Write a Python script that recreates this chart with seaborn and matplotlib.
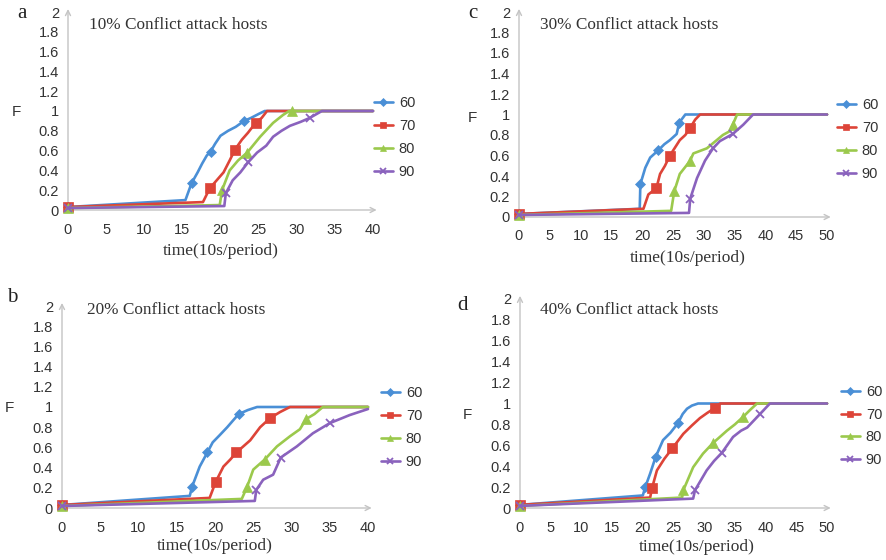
import matplotlib
matplotlib.use("Agg")
import matplotlib.pyplot as plt
import seaborn as sns

# ---------------- data ----------------
series_labels = ["60", "70", "80", "90"]
panel_titles = ["10% Conflict attack hosts", "20% Conflict attack hosts",
                "30% Conflict attack hosts", "40% Conflict attack hosts"]
panel_letters = ["a", "b", "c", "d"]
xticks_40 = [0, 5, 10, 15, 20, 25, 30, 35, 40]
xticks_50 = [0, 5, 10, 15, 20, 25, 30, 35, 40, 45, 50]
yticks = [0, 0.2, 0.4, 0.6, 0.8, 1.0, 1.2, 1.4, 1.6, 1.8, 2.0]
ytick_labels = ["0", "0.2", "0.4", "0.6", "0.8", "1", "1.2", "1.4", "1.6", "1.8", "2"]

# panel a: 10%
a60_x = [0, 15.4, 16.2, 17.0, 17.6, 18.2, 18.7, 19.3, 20.0, 21.0, 22.0, 23.1, 24.0, 25.0, 25.8, 40]
a60_y = [0.03, 0.10, 0.27, 0.38, 0.47, 0.55, 0.59, 0.67, 0.75, 0.80, 0.84, 0.90, 0.93, 0.97, 1.0, 1.0]
a60_mk = [0, 2, 6, 11]
a70_x = [0, 17.7, 18.6, 19.5, 20.4, 21.2, 21.9, 22.8, 23.6, 24.6, 25.4, 26.1, 40]
a70_y = [0.03, 0.08, 0.22, 0.30, 0.38, 0.50, 0.61, 0.71, 0.78, 0.88, 0.93, 1.0, 1.0]
a70_mk = [0, 2, 6, 9]
a80_x = [0, 19.9, 20.2, 21.2, 22.3, 23.5, 25.2, 26.9, 28.2, 29.0, 29.4, 40]
a80_y = [0.02, 0.05, 0.20, 0.40, 0.50, 0.58, 0.74, 0.88, 0.96, 1.0, 1.0, 1.0]
a80_mk = [0, 2, 5, 10]
a90_x = [0, 20.5, 20.7, 21.6, 22.6, 23.6, 24.8, 26.0, 26.9, 28.0, 29.1, 30.5, 31.7, 33.3, 40]
a90_y = [0.02, 0.04, 0.17, 0.30, 0.38, 0.48, 0.58, 0.65, 0.74, 0.80, 0.85, 0.89, 0.93, 1.0, 1.0]
a90_mk = [0, 2, 5, 12]

# panel b: 20%
b60_x = [0, 16.7, 17.0, 18.0, 19.0, 19.7, 20.6, 21.6, 22.4, 23.1, 24.3, 25.5, 40]
b60_y = [0.03, 0.12, 0.21, 0.41, 0.55, 0.65, 0.72, 0.80, 0.87, 0.93, 0.97, 1.0, 1.0]
b60_mk = [0, 2, 4, 9]
b70_x = [0, 19.3, 20.1, 21.1, 22.0, 22.8, 23.7, 24.6, 25.9, 27.2, 28.5, 29.8, 40]
b70_y = [0.03, 0.10, 0.26, 0.41, 0.48, 0.55, 0.61, 0.67, 0.80, 0.89, 0.95, 1.0, 1.0]
b70_mk = [0, 2, 5, 9]
b80_x = [0, 23.5, 24.2, 25.0, 26.5, 28.1, 29.8, 31.1, 31.9, 33.0, 34.1, 40]
b80_y = [0.02, 0.09, 0.21, 0.38, 0.48, 0.61, 0.71, 0.78, 0.88, 0.93, 1.0, 1.0]
b80_mk = [0, 2, 4, 8]
b90_x = [0, 25.2, 25.4, 26.3, 27.6, 28.6, 30.7, 32.8, 35.0, 37.6, 40]
b90_y = [0.02, 0.07, 0.18, 0.28, 0.33, 0.50, 0.61, 0.74, 0.84, 0.92, 0.98]
b90_mk = [0, 2, 5, 8]

# panel c: 30%
c60_x = [0, 19.6, 19.7, 20.5, 21.3, 22.6, 23.6, 24.5, 25.6, 26.0, 27.0, 50]
c60_y = [0.03, 0.08, 0.32, 0.48, 0.58, 0.65, 0.71, 0.75, 0.81, 0.92, 1.0, 1.0]
c60_mk = [0, 2, 5, 9]
c70_x = [0, 20.2, 21.0, 22.3, 22.9, 23.7, 24.5, 26.1, 27.0, 27.8, 28.6, 29.4, 50]
c70_y = [0.03, 0.08, 0.22, 0.28, 0.42, 0.50, 0.60, 0.75, 0.80, 0.87, 0.95, 1.0, 1.0]
c70_mk = [0, 3, 6, 9]
c80_x = [0, 24.7, 25.2, 26.1, 27.8, 28.3, 30.5, 31.5, 33.1, 34.3, 34.7, 35.4, 50]
c80_y = [0.02, 0.06, 0.25, 0.42, 0.55, 0.62, 0.67, 0.72, 0.80, 0.84, 0.90, 1.0, 1.0]
c80_mk = [0, 2, 4, 10]
c90_x = [0, 27.6, 27.8, 28.9, 30.2, 31.5, 32.6, 34.7, 36.4, 38.0, 50]
c90_y = [0.02, 0.04, 0.18, 0.38, 0.55, 0.67, 0.74, 0.81, 0.90, 1.0, 1.0]
c90_mk = [0, 2, 5, 7]

# panel d: 40%
d60_x = [0, 20.0, 20.4, 21.2, 22.1, 23.3, 24.5, 25.7, 26.5, 27.2, 28.0, 29.0, 50]
d60_y = [0.03, 0.12, 0.20, 0.33, 0.49, 0.65, 0.72, 0.81, 0.90, 0.95, 0.98, 1.0, 1.0]
d60_mk = [0, 2, 4, 7]
d70_x = [0, 21.2, 21.5, 22.3, 23.5, 24.8, 26.6, 28.0, 29.3, 30.5, 31.8, 32.6, 50]
d70_y = [0.03, 0.10, 0.19, 0.36, 0.47, 0.57, 0.71, 0.79, 0.86, 0.91, 0.96, 1.0, 1.0]
d70_mk = [0, 2, 5, 10]
d80_x = [0, 26.4, 26.6, 28.2, 29.8, 31.4, 33.7, 35.0, 36.3, 37.5, 38.6, 50]
d80_y = [0.02, 0.10, 0.17, 0.39, 0.52, 0.62, 0.74, 0.80, 0.87, 0.94, 1.0, 1.0]
d80_mk = [0, 2, 5, 8]
d90_x = [0, 28.2, 28.5, 30.4, 31.6, 32.9, 34.7, 36.0, 37.0, 39.1, 40.7, 50]
d90_y = [0.02, 0.09, 0.17, 0.36, 0.45, 0.53, 0.68, 0.74, 0.77, 0.90, 1.0, 1.0]
d90_mk = [0, 2, 5, 9]

# ---------------- style ----------------
sns.set_style("white")
plt.rcParams["font.family"] = ["Liberation Sans", "DejaVu Sans"]
SERIF = ["Liberation Serif", "DejaVu Serif"]

colors = ["#4a8fd6", "#dd4438", "#9bc94c", "#8a62bd"]
markers = ["D", "s", "^", "x"]
msizes = [5, 6.5, 6.5, 6]
AXCOL = "#c4c4c4"
TXT = "#333333"

W, H = 887, 560
fig = plt.figure(figsize=(W / 100, H / 100), dpi=100)


def px(x, y):
    return x / W, 1 - y / H


def axes_rect(x0, x1, y0, y2):
    # x0..x1 pixel range of x axis, y0 pixel of y=0, y2 pixel of y=2
    return [x0 / W, 1 - y0 / H, (x1 - x0) / W, (y0 - y2) / H]


panels = [
    dict(rect=axes_rect(68, 373, 210, 12), xmax=40, xt=xticks_40,
         series=[(a60_x, a60_y, a60_mk), (a70_x, a70_y, a70_mk),
                 (a80_x, a80_y, a80_mk), (a90_x, a90_y, a90_mk)],
         title=panel_titles[0], letter=panel_letters[0],
         title_xy=(89, 25), letter_xy=(17, 13), F_xy=(16, 112), xl_xy=(221, 251),
         leg_xy=(374, 137.5)),
    dict(rect=axes_rect(62, 368, 508, 306), xmax=40, xt=xticks_40,
         series=[(b60_x, b60_y, b60_mk), (b70_x, b70_y, b70_mk),
                 (b80_x, b80_y, b80_mk), (b90_x, b90_y, b90_mk)],
         title=panel_titles[1], letter=panel_letters[1],
         title_xy=(87, 310), letter_xy=(7, 297), F_xy=(9, 408), xl_xy=(215, 546),
         leg_xy=(381, 427.5)),
    dict(rect=axes_rect(519, 827, 217, 12), xmax=50, xt=xticks_50,
         series=[(c60_x, c60_y, c60_mk), (c70_x, c70_y, c70_mk),
                 (c80_x, c80_y, c80_mk), (c90_x, c90_y, c90_mk)],
         title=panel_titles[2], letter=panel_letters[2],
         title_xy=(540, 25), letter_xy=(468, 14), F_xy=(472, 118), xl_xy=(688, 258),
         leg_xy=(837, 139.5)),
    dict(rect=axes_rect(520, 827, 508, 299), xmax=50, xt=xticks_50,
         series=[(d60_x, d60_y, d60_mk), (d70_x, d70_y, d70_mk),
                 (d80_x, d80_y, d80_mk), (d90_x, d90_y, d90_mk)],
         title=panel_titles[3], letter=panel_letters[3],
         title_xy=(540, 310), letter_xy=(457, 305), F_xy=(467, 415), xl_xy=(697, 547),
         leg_xy=(841, 426)),
]

for p in panels:
    ax = fig.add_axes(p["rect"])
    for i, (xs, ys, mk) in enumerate(p["series"]):
        sns.lineplot(x=xs, y=ys, ax=ax, color=colors[i], linewidth=1.9,
                     marker=markers[i], markersize=msizes[i], markevery=mk,
                     markeredgewidth=1.3 if markers[i] == "x" else 0.5,
                     markeredgecolor=colors[i], label=series_labels[i],
                     sort=False, estimator=None, clip_on=False, zorder=3)
    handles, labels = ax.get_legend_handles_labels()
    ax.set_xlim(0, p["xmax"])
    ax.set_ylim(0, 2)
    ax.set_xticks(p["xt"])
    ax.set_xticklabels([str(v) for v in p["xt"]])
    ax.set_yticks(yticks)
    ax.set_yticklabels(ytick_labels)
    ax.tick_params(axis="both", colors=AXCOL, labelcolor=TXT, labelsize=10.5,
                   length=3, width=0.8)
    ax.tick_params(axis="x", pad=6)
    ax.tick_params(axis="y", pad=3.5)
    for s in ["top", "right", "left", "bottom"]:
        ax.spines[s].set_visible(False)
    # axis lines with arrows
    ax.annotate("", xy=(1.012, 0), xytext=(0, 0), xycoords="axes fraction",
                arrowprops=dict(arrowstyle="->", color=AXCOL, lw=1.0,
                                mutation_scale=9, shrinkA=0, shrinkB=0), zorder=1)
    ax.annotate("", xy=(0, 1.015), xytext=(0, 0), xycoords="axes fraction",
                arrowprops=dict(arrowstyle="->", color=AXCOL, lw=1.0,
                                mutation_scale=9, shrinkA=0, shrinkB=0), zorder=1)
    ax.set_xlabel("")
    ax.set_ylabel("")
    leg = ax.legend(handles, labels, loc="center left",
                    bbox_to_anchor=px(*p["leg_xy"]), bbox_transform=fig.transFigure,
                    frameon=False, fontsize=10.5, handlelength=1.3, handletextpad=0.4,
                    labelspacing=0.6, borderpad=0, borderaxespad=0,
                    markerscale=0.75)
    for t in leg.get_texts():
        t.set_color(TXT)

    fig.text(*px(*p["title_xy"]), p["title"], family=SERIF, fontsize=12.4,
             color=TXT, ha="left", va="center")
    fig.text(*px(*p["letter_xy"]), p["letter"], family=SERIF, fontsize=15,
             color="#222222", ha="left", va="center")
    fig.text(*px(*p["F_xy"]), "F", fontsize=11, color=TXT, ha="center", va="center")
    fig.text(*px(*p["xl_xy"]), "time(10s/period)", family=SERIF, fontsize=12.5,
             color=TXT, ha="center", va="center")

fig.savefig("out.png", dpi=100)
